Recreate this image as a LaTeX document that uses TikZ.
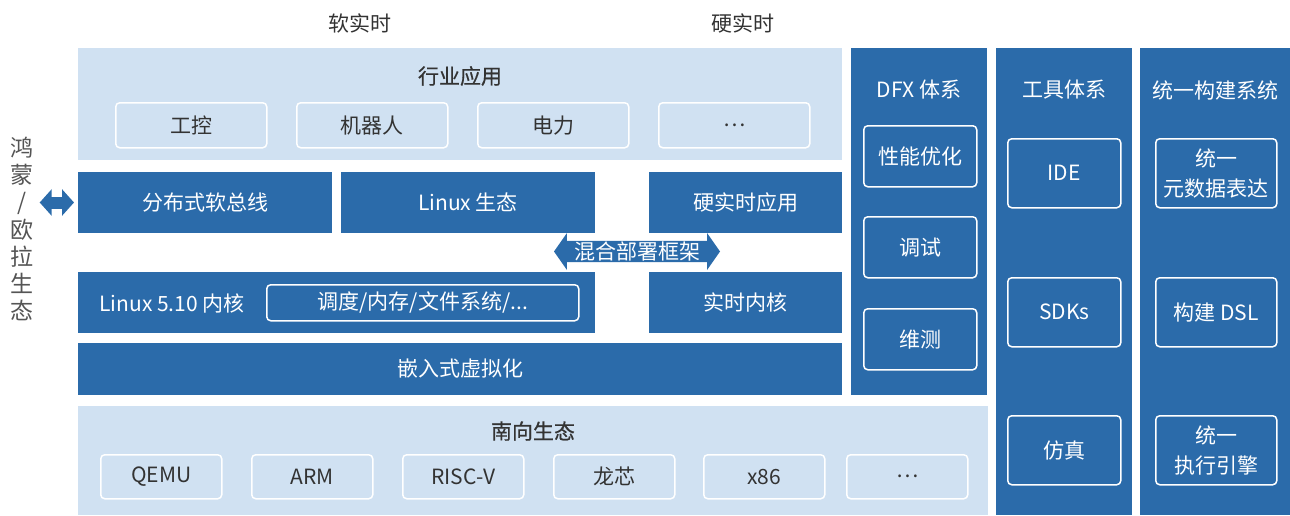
\documentclass[tikz,border=0pt]{standalone}
\usepackage{fontspec}
\setmainfont{Noto Sans CJK SC}
\newfontfamily\headfont[FakeBold=0.5]{Noto Sans CJK SC}
\usetikzlibrary{shapes.arrows,arrows.meta}
\definecolor{deepblue}{HTML}{2B6BAA}
\definecolor{paleblue}{HTML}{D0E1F2}
\definecolor{inkgray}{HTML}{333333}
\definecolor{sidegray}{HTML}{555555}
\tikzset{
  panel/.style={fill=paleblue, anchor=north west, inner sep=0pt, outer sep=0pt},
  block/.style={fill=deepblue, text=white, anchor=north west, inner sep=0pt, outer sep=0pt},
  lightitem/.style={draw=white, line width=1.5pt, rounded corners=4pt, text=inkgray, anchor=north west, inner sep=0pt},
  darkitem/.style={draw=white, line width=1.5pt, rounded corners=4pt, text=white, align=center, anchor=north west, inner sep=0pt},
  layertitle/.style={text=inkgray, font=\headfont\fontsize{21}{25}\selectfont},
  mixarrow/.style={double arrow, fill=deepblue, text=white, inner sep=0pt, minimum height=166pt, minimum width=37pt,
    double arrow head extend=7.5pt, double arrow tip angle=110},
  sidearrow/.style={draw=deepblue, line width=12pt, {Triangle[width=26pt,length=12pt]}-{Triangle[width=26pt,length=12pt]}}
}
\begin{document}
\begin{tikzpicture}[x=1pt, y=-1pt, every node/.style={font=\fontsize{21}{26}\selectfont}]
  \useasboundingbox (0,0) rectangle (1290,515);
  \node[text=inkgray] (soft) at (360,23) {软实时};
  \node[text=inkgray] (hard) at (743,23) {硬实时};
  \node[panel, minimum width=764pt, minimum height=112pt] (apps) at (78,48) {};
  \node[layertitle] (appstitle) at (460,76) {行业应用};
  \foreach \lbl [count=\i from 0] in {工控,机器人,电力,…}
    \node[lightitem, minimum width=151pt, minimum height=45pt] (app\i) at (115+181*\i,102) {\lbl};
  \node[block, minimum width=254pt, minimum height=61pt] (bus) at (78,172) {分布式软总线};
  \node[block, minimum width=254pt, minimum height=61pt] (linuxeco) at (341,172) {Linux 生态};
  \node[block, minimum width=193pt, minimum height=61pt] (hardapp) at (649,172) {硬实时应用};
  \node[block, minimum width=517pt, minimum height=61pt] (kernel) at (78,272) {};
  \node[text=white] (kernellbl) at (172,303) {Linux 5.10 内核};
  \node[darkitem, minimum width=312pt, minimum height=36pt] (subsys) at (266,284) {调度/内存/文件系统/...};
  \node[block, minimum width=193pt, minimum height=61pt] (rtkernel) at (649,272) {实时内核};
  \node[block, minimum width=764pt, minimum height=52pt] (virt) at (78,343) {嵌入式虚拟化};
  \node[mixarrow] (mix) at (637,251.5) {混合部署框架};
  \node[panel, minimum width=910pt, minimum height=109pt] (south) at (78,406) {};
  \node[layertitle] (southtitle) at (533,431) {南向生态};
  \foreach \lbl/\x [count=\i] in {QEMU/100,ARM/251,RISC-V/402,龙芯/553,x86/703,…/846}
    \node[lightitem, minimum width=121pt, minimum height=44pt] (arch\i) at (\x,454) {\lbl};
  \node[block, minimum width=136pt, minimum height=347pt] (dfx) at (851,48) {};
  \node[text=white] (dfxtitle) at (919,90) {DFX 体系};
  \foreach \lbl/\y [count=\i] in {性能优化/125,调试/216,维测/308}
    \node[darkitem, minimum width=113pt, minimum height=61pt] (dfx\i) at (863,\y) {\lbl};
  \node[block, minimum width=136pt, minimum height=467pt] (tools) at (996,48) {};
  \node[text=white] (toolstitle) at (1064,90) {工具体系};
  \foreach \lbl/\y [count=\i] in {IDE/138,SDKs/277,仿真/415}
    \node[darkitem, minimum width=113pt, minimum height=69pt] (tool\i) at (1007,\y) {\lbl};
  \node[block, minimum width=150pt, minimum height=467pt] (build) at (1140,48) {};
  \node[text=white] (buildtitle) at (1215,90) {统一构建系统};
  \foreach \lbl/\y [count=\i] in {{统一\\元数据表达}/138,构建 DSL/277,{统一\\执行引擎}/415}
    \node[darkitem, minimum width=121pt, minimum height=69pt, font=\fontsize{21}{30}\selectfont] (build\i) at (1155,\y) {\lbl};
  \node[text=sidegray, align=center, inner sep=0pt, font=\fontsize{23}{27.3}\selectfont] (eco) at (22,229) {鸿\\蒙\\/\\欧\\拉\\生\\态};
  \draw[sidearrow, shorten <=6pt, shorten >=4pt] (eco.east |- bus.west) -- (bus.west);
\end{tikzpicture}
\end{document}
